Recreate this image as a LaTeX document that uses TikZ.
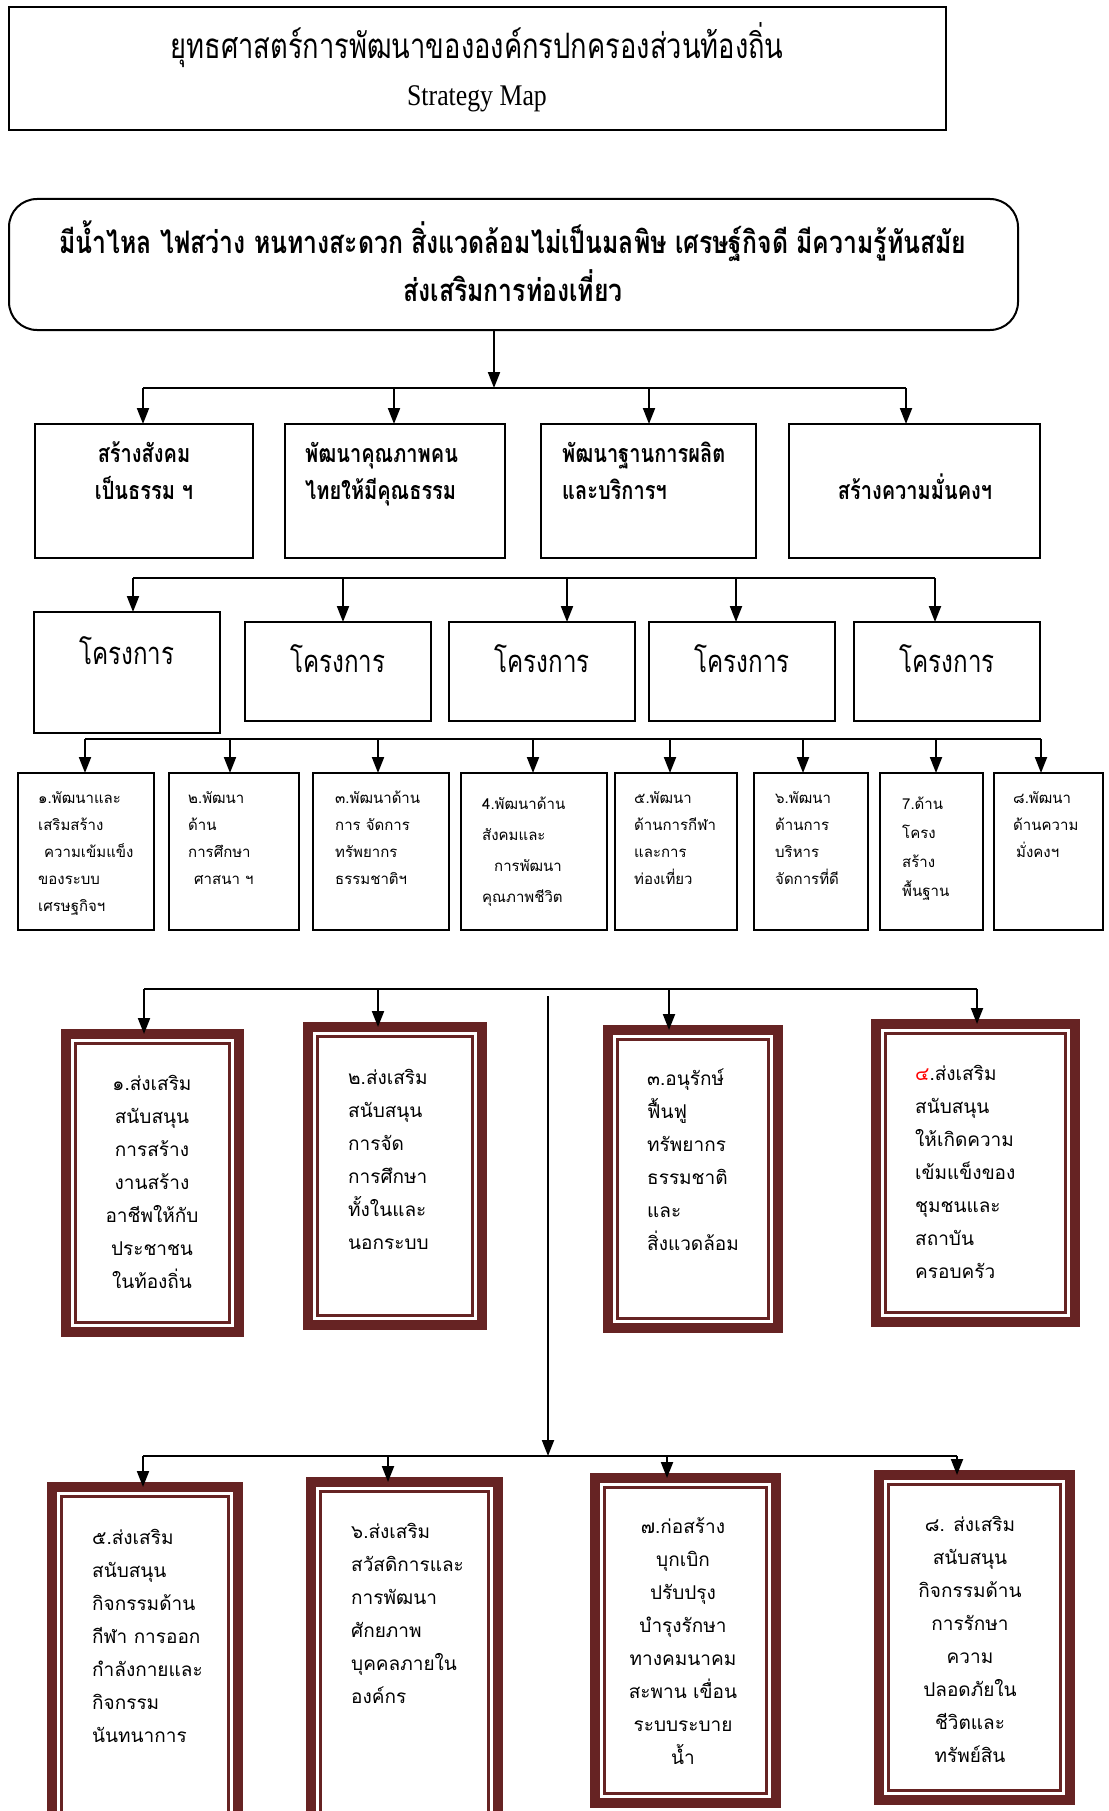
\documentclass[tikz,border=0pt]{standalone}
\usepackage{fontspec}
\setmainfont{Liberation Serif}
\newfontfamily\thr[Script=Thai]{Loma}
\newfontfamily\thc[Script=Thai,FakeStretch=0.78]{Loma}
\newfontfamily\thb[Script=Thai,FakeStretch=0.8]{Loma}
\newfontfamily\tms[FakeStretch=0.86]{Liberation Serif}
\usetikzlibrary{arrows.meta,fit}
\definecolor{mcol}{RGB}{102,35,35}
\newcommand\ltext[1]{\vtop{\halign{##\hfil\cr#1\crcr}}}
\newcommand\ctext[1]{\vtop{\halign{\hfil##\hfil\cr#1\crcr}}}
\begin{document}
\begin{tikzpicture}[x=1pt,y=-1pt,
  box/.style={draw, line width=2pt, inner sep=0pt, outer sep=0pt},
  arr/.style={line width=2pt, -{Triangle[width=12pt,length=16pt]}},
  ln/.style={line width=2pt},
  hd/.style={font=\thb\bfseries\fontsize{25}{37}\selectfont, inner sep=0pt},
  proj/.style={font=\thc\fontsize{31}{36}\selectfont, inner sep=0pt, anchor=base},
  sm/.style={font=\thr\fontsize{15}{27}\selectfont, inner sep=0pt, anchor=base west},
  mt/.style={font=\thr\fontsize{19}{33}\selectfont, inner sep=0pt},
  mbox/.style={draw=mcol, line width=10pt, fill=white, inner sep=0pt, outer sep=0pt},
  minner/.style={draw=mcol, line width=3.3pt}]
\clip (0,0) rectangle (1108,1811);
\fill[white] (0,0) rectangle (1108,1811);

% title
\node[box, fit={(9,7)(946,130)}] (title) {};
\node[font=\thc\fontsize{35}{40}\selectfont, inner sep=0pt, anchor=base] (ttl) at (477,59) {ยุทธศาสตร์การพัฒนาขององค์กรปกครองส่วนท้องถิ่น};
\node[font=\tms\fontsize{30}{36}\selectfont, inner sep=0pt, anchor=base] (smap) at (477,106) {Strategy Map};

% vision
\node[box, rounded corners=28pt, fit={(9,199)(1018,330)}] (vis) {};
\node[font=\thb\bfseries\fontsize{31}{48}\selectfont, inner sep=0pt, anchor=base] (vist) at (513,254)
  {\ctext{มีน้ำไหล ไฟสว่าง หนทางสะดวก สิ่งแวดล้อมไม่เป็นมลพิษ เศรษฐ์กิจดี มีความรู้ทันสมัย\cr ส่งเสริมการท่องเที่ยว}};

% level 2
\node[box, line width=2.5pt, fit={(35,424)(253,558)}] (s1) {};
\node[box, line width=2.5pt, fit={(285,424)(505,558)}] (s2) {};
\node[box, line width=2.5pt, fit={(541,424)(756,558)}] (s3) {};
\node[box, line width=2.5pt, fit={(789,424)(1040,558)}] (s4) {};
\node[hd, anchor=base] (s1t) at (144,462) {\ctext{สร้างสังคม\cr เป็นธรรม ฯ}};
\node[hd, anchor=base west] (s2t) at (305,462) {\ltext{พัฒนาคุณภาพคน\cr ไทยให้มีคุณธรรม}};
\node[hd, anchor=base west] (s3t) at (562,462) {\ltext{พัฒนาฐานการผลิต\cr และบริการฯ}};
\node[hd, anchor=base] (s4t) at (915,499) {สร้างความมั่นคงฯ};

\coordinate (h1) at (494,388);
\coordinate (b1l) at (143,388);
\coordinate (b1r) at (906,388);
\coordinate (d12) at (394,388);
\coordinate (d13) at (649,388);
\draw[arr] (vis.south -| h1) -- (h1);
\draw[ln] (b1l) -- (b1r);
\draw[arr] (b1l) -- (b1l |- s1.north);
\draw[arr] (d12) -- (d12 |- s2.north);
\draw[arr] (d13) -- (d13 |- s3.north);
\draw[arr] (b1r) -- (b1r |- s4.north);

% level 3
\node[box, fit={(34,612)(220,733)}] (p1) {};
\node[box, fit={(245,622)(431,721)}] (p2) {};
\node[box, fit={(449,622)(635,721)}] (p3) {};
\node[box, fit={(649,622)(835,721)}] (p4) {};
\node[box, fit={(854,622)(1040,721)}] (p5) {};
\node[proj] (p1t) at (127,664) {โครงการ};
\node[proj] (p2t) at (338,672) {โครงการ};
\node[proj] (p3t) at (542,672) {โครงการ};
\node[proj] (p4t) at (742,672) {โครงการ};
\node[proj] (p5t) at (947,672) {โครงการ};

\coordinate (b2l) at (133,578);
\coordinate (b2r) at (935,578);
\coordinate (d22) at (343,578);
\coordinate (d23) at (567,578);
\coordinate (d24) at (736,578);
\draw[ln] (b2l) -- (b2r);
\draw[arr] (b2l) -- (b2l |- p1.north);
\draw[arr] (d22) -- (d22 |- p2.north);
\draw[arr] (d23) -- (d23 |- p3.north);
\draw[arr] (d24) -- (d24 |- p4.north);
\draw[arr] (b2r) -- (b2r |- p5.north);

% level 4
\node[box, line width=2.5pt, fit={(18,773)(154,930)}] (q1) {};
\node[box, line width=2.5pt, fit={(169,773)(299,930)}] (q2) {};
\node[box, line width=2.5pt, fit={(313,773)(449,930)}] (q3) {};
\node[box, line width=2.5pt, fit={(461,773)(607,930)}] (q4) {};
\node[box, line width=2.5pt, fit={(615,773)(737,930)}] (q5) {};
\node[box, line width=2.5pt, fit={(754,773)(868,930)}] (q6) {};
\node[box, line width=2.5pt, fit={(880,773)(983,930)}] (q7) {};
\node[box, line width=2.5pt, fit={(994,773)(1103,930)}] (q8) {};
\node[sm] (q1t) at (38,803) {\ltext{๑.พัฒนาและ\cr เสริมสร้าง\cr \kern6pt ความเข้มแข็ง\cr ของระบบ\cr เศรษฐกิจฯ}};
\node[sm] (q2t) at (188,803) {\ltext{๒.พัฒนา\cr ด้าน\cr การศึกษา\cr \kern6pt ศาสนา ฯ}};
\node[sm] (q3t) at (335,803) {\ltext{๓.พัฒนาด้าน\cr การ จัดการ\cr ทรัพยากร\cr ธรรมชาติฯ}};
\node[sm, font=\thr\fontsize{15}{31}\selectfont] (q4t) at (482,809) {\ltext{4.พัฒนาด้าน\cr สังคมและ\cr \kern12pt การพัฒนา\cr คุณภาพชีวิต}};
\node[sm] (q5t) at (634,803) {\ltext{๕.พัฒนา\cr ด้านการกีฬา\cr และการ\cr ท่องเที่ยว}};
\node[sm] (q6t) at (775,803) {\ltext{๖.พัฒนา\cr ด้านการ\cr บริหาร\cr จัดการที่ดี}};
\node[sm, font=\thr\fontsize{15}{29}\selectfont] (q7t) at (902,809) {\ltext{7.ด้าน\cr โครง\cr สร้าง\cr พื้นฐาน}};
\node[sm] (q8t) at (1013,803) {\ltext{๘.พัฒนา\cr ด้านความ\cr \kern3pt มั่งคงฯ}};

\coordinate (b3l) at (85,739);
\coordinate (b3r) at (1041,739);
\coordinate (d32) at (230,739);
\coordinate (d33) at (378,739);
\coordinate (d34) at (533,739);
\coordinate (d35) at (670,739);
\coordinate (d36) at (803,739);
\coordinate (d37) at (936,739);
\draw[ln] (b3l) -- (b3r);
\draw[arr] (b3l) -- (b3l |- q1.north);
\draw[arr] (d32) -- (d32 |- q2.north);
\draw[arr] (d33) -- (d33 |- q3.north);
\draw[arr] (d34) -- (d34 |- q4.north);
\draw[arr] (d35) -- (d35 |- q5.north);
\draw[arr] (d36) -- (d36 |- q6.north);
\draw[arr] (d37) -- (d37 |- q7.north);
\draw[arr] (b3r) -- (b3r |- q8.north);

% maroon boxes
\node[mbox, fit={(66,1034)(239,1332)}] (m1) {};
\node[mbox, fit={(308,1027)(482,1325)}] (m2) {};
\node[mbox, fit={(608,1030)(778,1328)}] (m3) {};
\node[mbox, fit={(876,1024)(1075,1322)}] (m4) {};
\node[mbox, fit={(52,1487)(238,1835)}] (m5) {};
\node[mbox, fit={(311,1482)(498,1835)}] (m6) {};
\node[mbox, fit={(595,1478)(776,1803)}] (m7) {};
\node[mbox, fit={(879,1475)(1070,1800)}] (m8) {};
\foreach \m in {m1,m2,m3,m4,m5,m6,m7,m8}
  \draw[minner] ([shift={(9.3,9.3)}]\m.north west) rectangle ([shift={(-9.3,-9.3)}]\m.south east);

\node[mt, anchor=base] (m1t) at (152,1090) {\ctext{๑.ส่งเสริม\cr สนับสนุน\cr การสร้าง\cr งานสร้าง\cr อาชีพให้กับ\cr ประชาชน\cr ในท้องถิ่น}};
\node[mt, anchor=base west] (m2t) at (348,1084) {\ltext{๒.ส่งเสริม\cr สนับสนุน\cr การจัด\cr การศึกษา\cr ทั้งในและ\cr นอกระบบ}};
\node[mt, anchor=base west] (m3t) at (647,1085) {\ltext{๓.อนุรักษ์\cr ฟื้นฟู\cr ทรัพยากร\cr ธรรมชาติ\cr และ\cr สิ่งแวดล้อม}};
\node[mt, anchor=base west] (m4t) at (915,1080) {\ltext{{\color{red}๔}.ส่งเสริม\cr สนับสนุน\cr ให้เกิดความ\cr เข้มแข็งของ\cr ชุมชนและ\cr สถาบัน\cr ครอบครัว}};
\node[mt, anchor=base west] (m5t) at (92,1544) {\ltext{๕.ส่งเสริม\cr สนับสนุน\cr กิจกรรมด้าน\cr กีฬา การออก\cr กำลังกายและ\cr กิจกรรม\cr นันทนาการ}};
\node[mt, anchor=base west] (m6t) at (351,1538) {\ltext{๖.ส่งเสริม\cr สวัสดิการและ\cr การพัฒนา\cr ศักยภาพ\cr บุคคลภายใน\cr องค์กร}};
\node[mt, anchor=base] (m7t) at (683,1533) {\ctext{๗.ก่อสร้าง\cr บุกเบิก\cr ปรับปรุง\cr บำรุงรักษา\cr ทางคมนาคม\cr สะพาน เขื่อน\cr ระบบระบาย\cr น้ำ}};
\node[mt, anchor=base] (m8t) at (970,1531) {\ctext{๘. ส่งเสริม\cr สนับสนุน\cr กิจกรรมด้าน\cr การรักษา\cr ความ\cr ปลอดภัยใน\cr ชีวิตและ\cr ทรัพย์สิน}};

% connectors lower part
\coordinate (b4l) at (144,989);
\coordinate (b4r) at (977,989);
\coordinate (d42) at (378,989);
\coordinate (d43) at (669,989);
\coordinate (vtop) at (548,996);
\coordinate (vbot) at (548,1456);
\draw[ln] (b4l) -- (b4r);
\draw[arr] (b4l) -- (b4l |- m1.north);
\draw[arr] (d42) -- (d42 |- m2.north);
\draw[arr] (d43) -- (d43 |- m3.north);
\draw[arr] (b4r) -- (b4r |- m4.north);
\draw[arr] (vtop) -- (vbot);

\coordinate (b5l) at (143,1456);
\coordinate (b5r) at (957,1456);
\coordinate (d52) at (388,1456);
\coordinate (d53) at (667,1456);
\draw[ln] (b5l) -- (b5r);
\draw[arr] (b5l) -- (b5l |- m5.north);
\draw[arr] (d52) -- (d52 |- m6.north);
\draw[arr] (d53) -- (d53 |- m7.north);
\draw[arr] (b5r) -- (b5r |- m8.north);
\end{tikzpicture}
\end{document}
